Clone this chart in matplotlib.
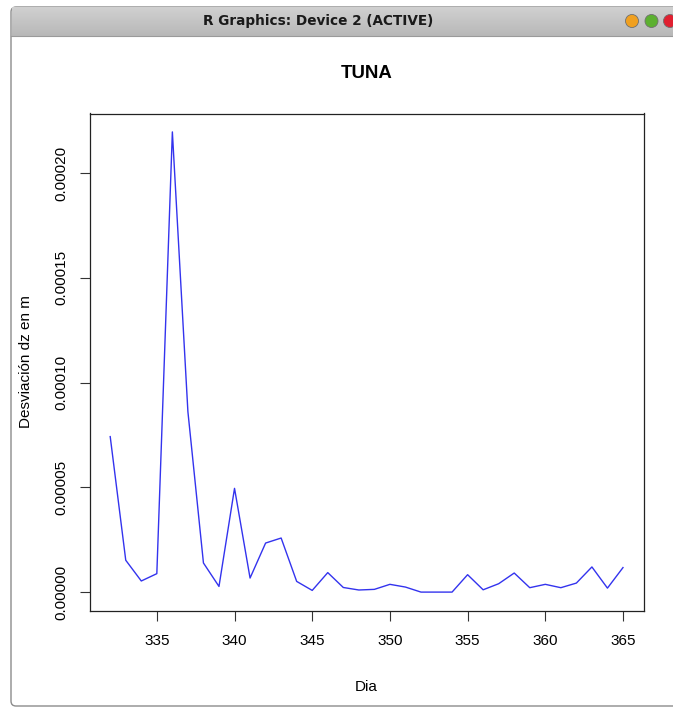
import numpy as np
import matplotlib
matplotlib.use('Agg')
import matplotlib.pyplot as plt
from matplotlib.patches import Circle, FancyBboxPatch
from matplotlib.colors import LinearSegmentedColormap

# Desviacion dz por dia (TUNA)
dias = list(range(332, 366))
desviacion = [7.42e-5, 1.52e-5, 5.3e-6, 8.8e-6, 2.196e-4, 8.61e-5, 1.39e-5, 2.7e-6,
              4.95e-5, 6.7e-6, 2.34e-5, 2.58e-5, 5.1e-6, 8e-7, 9.3e-6, 2.2e-6,
              1.0e-6, 1.3e-6, 3.7e-6, 2.4e-6, 0.0, 0.0, 0.0, 8.3e-6,
              1.1e-6, 4.0e-6, 9.1e-6, 2.1e-6, 3.7e-6, 2.1e-6, 4.3e-6, 1.2e-5,
              1.9e-6, 1.17e-5]
x_ticks = [335, 340, 345, 350, 355, 360, 365]
y_ticks = [0.0, 0.00005, 0.00010, 0.00015, 0.00020]

W, H = 673, 711
fig = plt.figure(figsize=(W / 100, H / 100), dpi=100)
plt.rcParams['font.family'] = ['Liberation Sans', 'DejaVu Sans']

# ventana (marco estilo Mac)
bg = fig.add_axes([0, 0, 1, 1], zorder=-1)
bg.axis('off')
bg.add_patch(FancyBboxPatch((11, 7), 700, 699, boxstyle='round,pad=0,rounding_size=5',
                            facecolor='white', edgecolor='#8c8c8c', lw=1))
grad = np.linspace(0, 1, 50).reshape(-1, 1)
bar_cmap = LinearSegmentedColormap.from_list('bar', ['#d0d0d0', '#b8b8b8'])
bg.imshow(grad, extent=(11.5, W, 36, 7.5), cmap=bar_cmap, aspect='auto', zorder=1)
bg.plot([11, W], [36, 36], color='#9a9a9a', lw=0.8, zorder=2)
bg.text(318, 21, 'R Graphics: Device 2 (ACTIVE)', ha='center', va='center',
        fontsize=9.8, fontweight='bold', family='DejaVu Sans', color='#1a1a1a', zorder=3)
for cx, col in [(632, '#f0a020'), (651.5, '#5cb030'), (670, '#e02030')]:
    bg.add_patch(Circle((cx, 21), 6.5, facecolor=col, edgecolor='#707070', lw=0.6, zorder=3))
bg.set_xlim(0, W)
bg.set_ylim(H, 0)

# grafico
left, right, top, bottom = 89.7, 643.5, 113.5, 610.5
ax = fig.add_axes([left / W, (H - bottom) / H, (right - left) / W, (bottom - top) / H])
ax.plot(dias, desviacion, color='#3333ee', lw=1.0)

xr = max(dias) - min(dias)
yr = max(desviacion) - min(desviacion)
ax.set_xlim(min(dias) - 0.04 * xr, max(dias) + 0.04 * xr)
ax.set_ylim(min(desviacion) - 0.04 * yr, max(desviacion) + 0.04 * yr)

ax.set_xticks(x_ticks)
ax.set_xticklabels([str(t) for t in x_ticks])
ax.set_yticks(y_ticks)
ax.set_yticklabels(['%.5f' % t for t in y_ticks], rotation=90, va='center')
ax.tick_params(axis='both', direction='out', length=7, width=0.8, labelsize=11,
               color='#333333')
ax.tick_params(axis='x', pad=10)
ax.tick_params(axis='y', pad=8)
for s in ax.spines.values():
    s.set_color('#222222')
    s.set_linewidth(0.9)

ax.set_xlabel('Dia', fontsize=11)
ax.xaxis.set_label_coords(0.5, (bottom - 680) / (bottom - top))
ax.set_ylabel('Desviación dz en m', fontsize=11)
ax.yaxis.set_label_coords((33 - left) / (right - left), 0.5)

fig.text(366.6 / W, 1 - 74 / H, 'TUNA', ha='center', va='center', fontsize=13.4,
         fontweight='bold')

fig.savefig('out.png', dpi=100)
